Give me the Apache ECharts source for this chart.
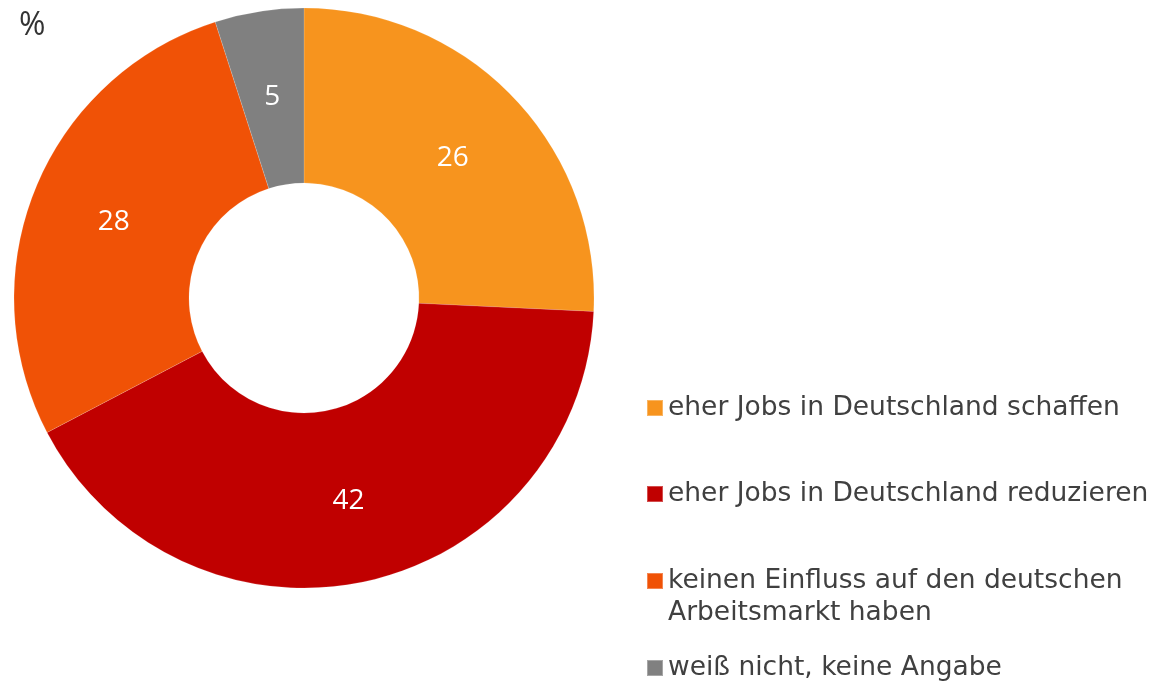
<!DOCTYPE html>
<html>
<head>
<meta charset="utf-8">
<script src="https://cdn.jsdelivr.net/npm/echarts@6/dist/echarts.min.js"></script>
<style>
  html, body { margin: 0; padding: 0; background: #fff; }
  #chart { width: 1171px; height: 681px; }
</style>
</head>
<body>
<div id="chart"></div>
<script>
const categories = [
  'eher Jobs in Deutschland schaffen',
  'eher Jobs in Deutschland reduzieren',
  'keinen Einfluss auf den deutschen\nArbeitsmarkt haben',
  'weiß nicht, keine Angabe'
];
const values = [26, 42, 28, 5];
const colors = ['#F7941E', '#C00000', '#F05206', '#808080'];
const legendTops = [392, 478, 565, 652];

const chart = echarts.init(document.getElementById('chart'));

// einzelne Legenden, damit das Kästchen bei zweizeiligem Text oben bleibt
const legends = categories.map((name, i) => {
  const twoLines = name.includes('\n');
  return {
    data: [name],
    left: 646,
    top: legendTops[i],
    padding: 0,
    orient: 'vertical',
    selectedMode: false,
    icon: twoLines ? 'path://M0,0H16V16H0Z M0,48L0.01,48' : 'rect',
    itemWidth: 16,
    itemHeight: twoLines ? 48 : 16,
    textStyle: {
      fontFamily: 'DejaVu Sans',
      fontSize: 26.5,
      color: '#404040',
      lineHeight: 32
    }
  };
});

chart.setOption({
  animation: false,
  color: colors,
  title: {
    text: '%',
    left: 14,
    top: 5,
    textStyle: { fontFamily: 'Open Sans', fontSize: 32, fontWeight: 'normal', color: '#333' }
  },
  legend: legends,
  series: [
    {
      type: 'pie',
      center: [304, 298],
      radius: [115, 290],
      startAngle: 90,
      clockwise: true,
      avoidLabelOverlap: false,
      itemStyle: { borderColor: 'rgba(255,255,255,0.3)', borderWidth: 0.5 },
      label: {
        show: true,
        position: 'inside',
        formatter: '{c}',
        color: '#fff',
        fontFamily: 'Open Sans',
        fontSize: 28,
        offset: [0, 2]
      },
      labelLine: { show: false },
      emphasis: { disabled: true },
      data: categories.map((name, i) => ({ name, value: values[i] }))
    }
  ]
});
</script>
</body>
</html>
